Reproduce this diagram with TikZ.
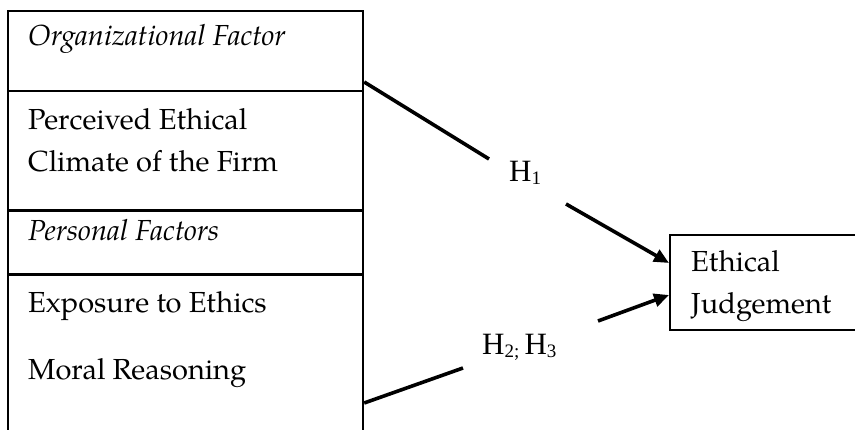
\documentclass[tikz,border=0pt]{standalone}
\usepackage{fontspec}
\setmainfont{TeX Gyre Pagella}
\newfontfamily\timesf{Liberation Serif}
\usetikzlibrary{arrows.meta}
\newcommand{\hsub}[1]{{\fontsize{19}{19}\selectfont\raisebox{-2.5pt}{#1}}}
\begin{document}
\begin{tikzpicture}[x=1pt,y=-1pt,
  txt/.style={anchor=base west,inner sep=0pt,font=\fontsize{29}{33}\selectfont},
  hyp/.style={anchor=base west,inner sep=0pt,font=\timesf\fontsize{31}{33}\selectfont},
  boxline/.style={draw=black,line width=2.2pt},
  conn/.style={draw=black,line width=3.6pt},
  arr/.style={conn,-{Triangle[length=15pt,width=13pt]}}]
\useasboundingbox (0,0) rectangle (855,430);
\clip (0,0) rectangle (855,430);
% left box
\node[boxline,anchor=north west,inner sep=0pt,minimum width=355pt,minimum height=440pt] (leftbox) at (7,10) {};
\draw[boxline] (leftbox.west |- 0,91) -- (leftbox.east |- 0,91);
\draw[boxline] (leftbox.west |- 0,210.5) -- (leftbox.east |- 0,210.5);
\draw[boxline] (leftbox.west |- 0,274.5) -- (leftbox.east |- 0,274.5);
\node[txt] (org) at (28,46) {\itshape Organizational Factor};
\node[txt] (pec1) at (28,130) {Perceived Ethical};
\node[txt] (pec2) at (28,172) {Climate of the Firm};
\node[txt] (pers) at (28,241) {\itshape Personal Factors};
\node[txt] (expo) at (28,313) {Exposure to Ethics};
\node[txt] (moral) at (28,380) {Moral Reasoning};
% right box
\node[boxline,anchor=north west,inner sep=0pt,minimum width=220pt,minimum height=95pt] (ej) at (669,234) {};
\node[txt] (ej1) at (691,272) {Ethical};
\node[txt] (ej2) at (691,314) {Judgement};
% hypotheses labels
\node[hyp] (h1) at (509,182) {H\hsub{1}};
\node[hyp] (h23) at (482,355) {H\hsub{2;}\,H\hsub{3}};
% connectors
\coordinate (s1) at (leftbox.east |- 0,82);
\coordinate (g1a) at (489,159);
\coordinate (g1b) at (566,204);
\coordinate (t1) at (ej.west |- 0,263);
\coordinate (s2) at (leftbox.east |- 0,403);
\coordinate (g2a) at (463,368);
\coordinate (g2b) at (598,321);
\coordinate (t2) at (ej.west |- 0,295);
\draw[conn] (s1) -- (g1a);
\draw[arr] (g1b) -- (t1);
\draw[conn] (s2) -- (g2a);
\draw[arr] (g2b) -- (t2);
\end{tikzpicture}
\end{document}
